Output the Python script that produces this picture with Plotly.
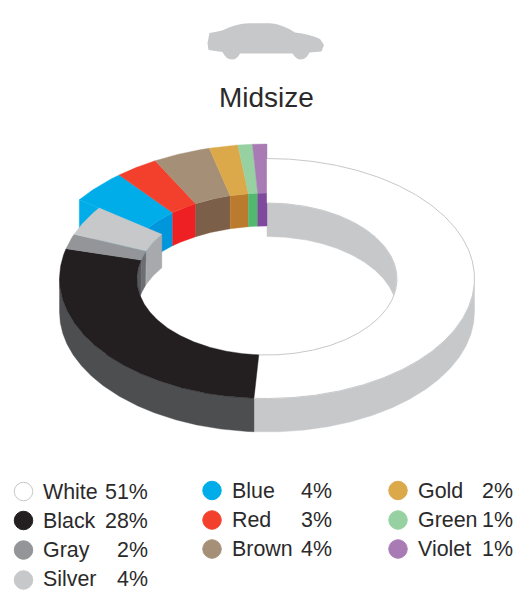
import numpy as np
import plotly.graph_objects as go

# ---- data ----
CATEGORIES = ["White", "Black", "Gray", "Silver", "Blue", "Red", "Brown", "Gold", "Green", "Violet"]
SHARES = [51, 28, 2, 4, 4, 3, 4, 2, 1, 1]
TITLE = "Midsize"

# ---- styles ----
TOP = dict(White="#FFFFFF", Black="#231F20", Gray="#939598", Silver="#C7C8CA", Blue="#00ADE8",
           Red="#F2402D", Brown="#A68F77", Gold="#DBA94A", Green="#97D1A2", Violet="#A97BB5")
INNER = dict(White="#C7C8CA", Black="#58595B", Gray="#6D6E71", Silver="#A7A9AC", Blue="#0096DB",
             Red="#EE2024", Brown="#7B5F48", Gold="#BA7B2E", Green="#50B96F", Violet="#7F4A9E")
OUTER = dict(White="#C7C8CA", Black="#4D4E50")
INK = "#2B2A2B"
RAISED = {"Blue", "Red", "Brown", "Gold", "Green", "Violet"}

# ring geometry in page pixels (projected ellipses)
BASE = dict(cx=267, cy=278.5, rx=207.5, ry=120, icy=279, irx=130, iry=76, depth=33.5)
LIFT = dict(cx=267, cy=279, rx=232, ry=135, icy=279, irx=148, iry=86, depth=33)

ends = np.cumsum(SHARES) / sum(SHARES) * 360.0
starts = ends - np.array(SHARES) / sum(SHARES) * 360.0
ANG = {c: (s, e) for c, s, e in zip(CATEGORIES, starts, ends)}


def arc(cx, cy, rx, ry, a0, a1, dy=0.0):
    t = np.radians(np.linspace(a0, a1, max(3, int(abs(a1 - a0) * 2))))
    return cx + rx * np.sin(t), cy - ry * np.cos(t) + dy


def poly(fig, xs, ys, color, name):
    fig.add_trace(go.Scatter(x=np.r_[xs, xs[0]], y=np.r_[ys, ys[0]], mode="lines", fill="toself",
                             fillcolor=color, line=dict(color=color, width=0.4),
                             name=name, hoverinfo="name", showlegend=False))


def top_face(fig, g, a0, a1, color, name):
    x1, y1 = arc(g["cx"], g["cy"], g["rx"], g["ry"], a0, a1)
    x2, y2 = arc(g["cx"], g["icy"], g["irx"], g["iry"], a1, a0)
    poly(fig, np.r_[x1, x2], np.r_[y1, y2], color, name)


def wall(fig, g, a0, a1, color, name, inner=True):
    cy, rx, ry = (g["icy"], g["irx"], g["iry"]) if inner else (g["cy"], g["rx"], g["ry"])
    x1, y1 = arc(g["cx"], cy, rx, ry, a0, a1)
    x2, y2 = arc(g["cx"], cy, rx, ry, a1, a0, g["depth"])
    poly(fig, np.r_[x1, x2], np.r_[y1, y2], color, name)


fig = go.Figure()

# far inner wall of the white slice
cross = np.degrees(np.arccos(-BASE["depth"] / (2 * BASE["iry"])))
wall(fig, BASE, ANG["White"][0], cross, INNER["White"], "White")

# lifted slices: end cap, inner walls, top faces
raised = [c for c in CATEGORIES if c in RAISED]
first = ANG["Blue"][0]
g = LIFT
ox, oy = arc(g["cx"], g["cy"], g["rx"], g["ry"], first, first + 0.01)
ix, iy = arc(g["cx"], g["icy"], g["irx"], g["iry"], first, first + 0.01)
poly(fig, np.array([ox[0], ix[0], ix[0], ox[0]]),
     np.array([oy[0], iy[0], iy[0] + g["depth"], oy[0] + g["depth"]]), TOP["Blue"], "Blue")
for c in raised:
    wall(fig, LIFT, ANG[c][0], ANG[c][1], INNER[c], c)
for c in raised:
    top_face(fig, LIFT, ANG[c][0], ANG[c][1], TOP[c], c)

# near-side inner walls on the base ring
for c in ["Black", "Gray", "Silver"]:
    a0 = max(ANG[c][0], 360 - cross)
    wall(fig, BASE, a0, ANG[c][1], INNER[c], c)

# outer walls
wall(fig, BASE, 90, ANG["White"][1], OUTER["White"], "White", inner=False)
wall(fig, BASE, ANG["Black"][0], 270, OUTER["Black"], "Black", inner=False)

# base top faces
for c in ["White", "Black", "Gray", "Silver"]:
    top_face(fig, BASE, ANG[c][0], ANG[c][1], TOP[c], c)

# white slice hairlines
for cy, rx, ry in [(BASE["cy"], BASE["rx"], BASE["ry"]), (BASE["icy"], BASE["irx"], BASE["iry"])]:
    lx, ly = arc(BASE["cx"], cy, rx, ry, *ANG["White"])
    fig.add_trace(go.Scatter(x=lx, y=ly, mode="lines", line=dict(color="#C7C8CA", width=1),
                             hoverinfo="skip", showlegend=False))

# legend
COL_DOT = [23.5, 212, 398]
COL_LABEL = [43, 232, 418]
COL_VALUE = [148, 331.5, 512.5]
ROW_Y = [[491.5, 520.5, 550, 578.5], [490.5, 520, 549], [490.5, 520, 549]]
DOT_Y_LAST = 580
SPLIT = [4, 3, 3]
FONT_SIZE = 21.4
annotations = []
i = 0
for col, n in enumerate(SPLIT):
    for row in range(n):
        c, v = CATEGORIES[i], SHARES[i]
        y = ROW_Y[col][row]
        dot_y = DOT_Y_LAST if c == "Silver" else y
        fig.add_trace(go.Scatter(x=[COL_DOT[col]], y=[dot_y], mode="markers", name=c, hoverinfo="name",
                                 marker=dict(size=18.5, color=TOP[c],
                                             line=dict(color="#C7C8CA" if c == "White" else TOP[c], width=1)),
                                 showlegend=False))
        annotations.append(dict(x=COL_LABEL[col], y=y, text=c, xanchor="left", yanchor="middle",
                                showarrow=False, font=dict(size=FONT_SIZE, color=INK), xref="x", yref="y",
                                borderpad=0, borderwidth=0))
        annotations.append(dict(x=COL_VALUE[col], y=y, text=f"{v}%", xanchor="right", yanchor="middle",
                                showarrow=False, font=dict(size=FONT_SIZE, color=INK), xref="x", yref="y",
                                borderpad=0, borderwidth=0))
        i += 1

annotations.append(dict(x=266.5, y=97.5, text=TITLE, xanchor="center", yanchor="middle", showarrow=False,
                        font=dict(size=28, color=INK), xref="x", yref="y", borderpad=0, borderwidth=0))

CAR = ("M 207.5 43 L 209.5 33 Q 217 31.5 222 30.5 Q 236 23.5 249 23.3 L 270 23.3 Q 282 24 295 32.5 "
       "Q 310 34 320 39 L 324 45 L 321.5 51.5 L 309.5 52.5 Q 306 59.5 301 59.5 Q 296 59.5 292.5 53.5 "
       "L 240 53.5 Q 237 59.5 232 59.5 Q 226 59.5 222.5 52 L 208.5 50 Z")

fig.update_layout(
    width=515, height=590, margin=dict(l=0, r=0, t=0, b=0),
    paper_bgcolor="white", plot_bgcolor="white",
    font=dict(family="Liberation Sans, Arial, sans-serif"),
    xaxis=dict(range=[0, 515], visible=False, fixedrange=True),
    yaxis=dict(range=[590, 0], visible=False, fixedrange=True),
    showlegend=False, annotations=annotations,
    shapes=[dict(type="path", path=CAR, fillcolor="#C7C8CA", line=dict(width=0), xref="x", yref="y")],
)

fig.write_html("out.html", config=dict(displayModeBar=False),
               post_script="document.body.style.margin='0';")
